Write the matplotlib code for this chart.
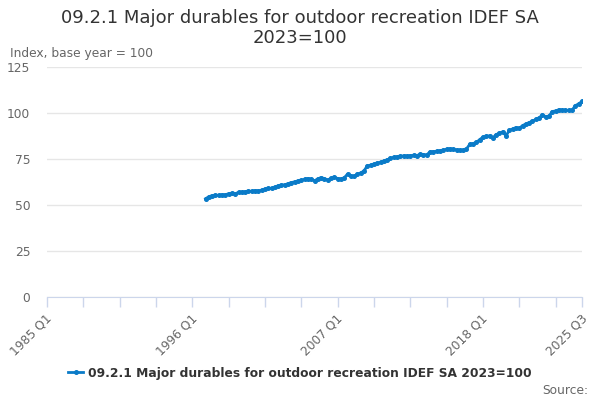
import matplotlib
matplotlib.use("Agg")
import matplotlib.pyplot as plt
import matplotlib.transforms as mtransforms
from matplotlib.lines import Line2D

plt.rcParams['font.family'] = ['DejaVu Sans']

# Quarter index counted from 1985 Q1 (= 0)
start_index = 48  # 1997 Q1
values = [
    53.4, 54.5, 55.1, 55.3, 55.2, 55.6, 55.5, 56.2, 56.3, 56.1,
    56.9, 57.0, 57.2, 57.5, 57.4, 57.8, 57.7, 58.0, 58.6, 59.1,
    59.0, 59.6, 60.4, 60.8, 61.0, 61.6, 62.2, 62.6, 63.1, 63.4,
    63.9, 64.4, 64.0, 63.2, 64.2, 64.9, 64.3, 63.6, 64.5, 65.1,
    64.4, 64.0, 64.8, 66.8, 65.8, 65.6, 66.8, 67.4, 68.6, 71.3,
    71.6, 72.2, 72.8, 73.2, 73.9, 74.6, 75.4, 75.9, 76.2, 76.4,
    76.7, 76.6, 76.8, 77.0, 76.9, 77.5, 77.4, 77.3, 78.9, 79.0,
    79.2, 79.5, 79.8, 80.3, 80.6, 80.2, 80.0, 79.8, 79.7, 80.4,
    83.0, 83.4, 84.0, 85.5, 86.9, 87.3, 87.6, 86.5, 88.3, 89.0,
    89.8, 87.6, 90.6, 91.3, 92.1, 91.6, 93.2, 94.0, 94.8, 95.6,
    96.5, 97.3, 99.1, 97.9, 98.3, 100.8, 101.1, 101.8, 101.6, 101.5,
    101.4, 101.6, 104.0, 105.0, 106.3,
]
quarters = list(range(start_index, start_index + len(values)))

tick_positions = list(range(0, 155, 11)) + [162]
tick_labels = {0: "1985 Q1", 44: "1996 Q1", 88: "2007 Q1", 132: "2018 Q1", 162: "2025 Q3"}
y_ticks = [0, 25, 50, 75, 100, 125]

title_line1 = "09.2.1 Major durables for outdoor recreation IDEF SA"
title_line2 = "2023=100"
series_name = "09.2.1 Major durables for outdoor recreation IDEF SA 2023=100"
color = "#0a7bc8"

fig = plt.figure(figsize=(6, 4), dpi=100)
ax = fig.add_axes([47/600, 1-297/400, (582-47)/600, (297-67)/400])

ax.plot(quarters, values, color=color, lw=2, marker='o', ms=2.6, zorder=3)

ax.set_xlim(0, 162)
ax.set_ylim(0, 125)
ax.set_yticks(y_ticks)
ax.set_yticklabels([str(v) for v in y_ticks], fontsize=8.8, color="#666666")
ax.tick_params(axis='y', length=0, pad=12)
ax.grid(axis='y', color="#e6e6e6", lw=1)
ax.set_axisbelow(True)

ax.set_xticks(tick_positions)
ax.set_xticklabels([tick_labels.get(t, "") for t in tick_positions],
                   rotation=45, ha='right', va='center', rotation_mode='anchor',
                   fontsize=8.8, color="#666666")
ax.tick_params(axis='x', length=7.2, color="#ccd6eb", width=1, pad=6.5)
for lbl in ax.get_xticklabels():
    lbl.set_transform(lbl.get_transform() +
                      mtransforms.ScaledTranslation(3/100, 0, fig.dpi_scale_trans))

for s in ['top', 'right', 'left']:
    ax.spines[s].set_visible(False)
ax.spines['bottom'].set_color("#ccd6eb")

fig.text(0.5, 1-18/400, title_line1, ha='center', va='center', fontsize=13,
         color="#333333")
fig.text(0.5, 1-38/400, title_line2, ha='center', va='center', fontsize=13,
         color="#333333")
fig.text(10/600, 1-53/400, "Index, base year = 100", ha='left', va='center',
         fontsize=8.8, color="#666666")

handle = Line2D([0], [0], color=color, lw=2, marker='o', ms=2.6)
fig.legend([handle], [series_name], loc='center', bbox_to_anchor=(0.5, 1-373/400),
           frameon=False, prop={'size': 8.8, 'weight': 'bold'}, handlelength=1.2,
           handletextpad=0.4, labelcolor="#333333")
fig.text(588/600, 1-390/400, "Source:", ha='right', va='center', fontsize=8.8,
         color="#666666")

fig.savefig("out.png", dpi=100)
